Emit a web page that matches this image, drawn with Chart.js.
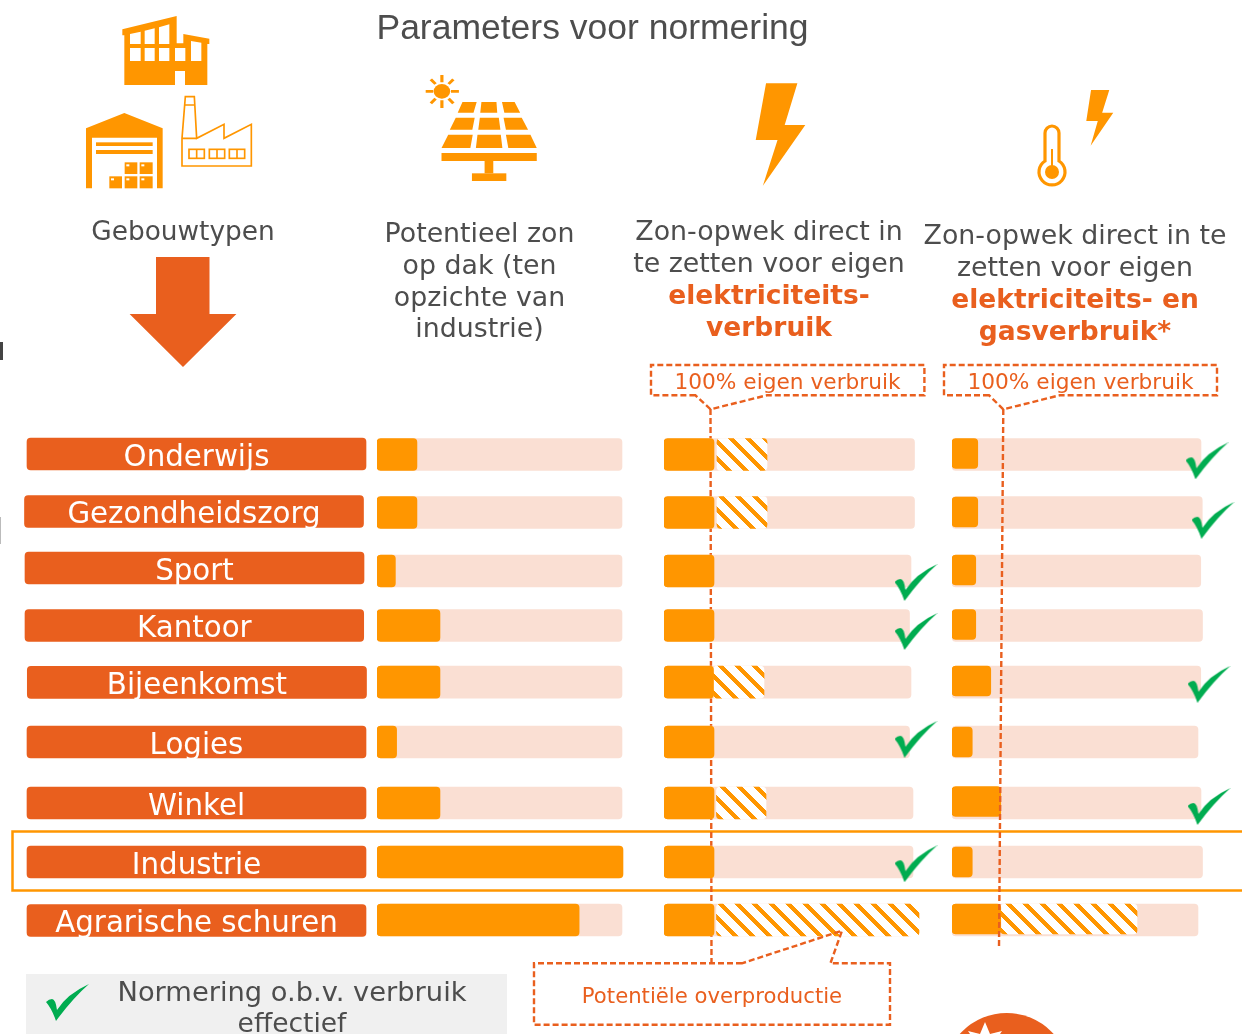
<!DOCTYPE html>
<html lang="nl">
<head>
<meta charset="utf-8">
<title>Parameters voor normering</title>
<script src="https://cdn.jsdelivr.net/npm/chart.js@4"></script>
<style>
  html, body { margin: 0; padding: 0; background: #fff; }
  #page { position: relative; width: 1242px; height: 1034px; overflow: hidden; }
  #page svg, #page canvas { position: absolute; top: 0; }
  #page svg { left: 0; }
  text { font-family: "DejaVu Sans", sans-serif; }
  .head { fill: #4d4d4d; font-size: 26.8px; text-anchor: middle; }
  .bold { fill: #e95f1e; font-size: 26.5px; font-weight: bold; text-anchor: middle; }
  .note { fill: #e95f1e; font-size: 21.7px; text-anchor: middle; }
  .dash { fill: none; stroke: #e95f1e; stroke-width: 2.4; stroke-dasharray: 6 3; }
</style>
</head>
<body>
<div id="page">
  <svg width="1242" height="1034">
    <rect x="12.5" y="831.5" width="1240" height="59" fill="none" stroke="#ff9600" stroke-width="2.5"/>
    <path class="dash" d="M710.5 409 L711.5 963"/>
    <rect x="26" y="974" width="481" height="60" fill="#f0f0f0"/>
    <rect x="0" y="342" width="3" height="18" fill="#444"/>
    <rect x="0" y="517" width="1" height="27" fill="#bbb"/>
  </svg>
  <canvas id="labels-chart" width="377" height="1034" style="left:0"></canvas>
  <canvas id="zon-chart" width="250" height="1034" style="left:377px"></canvas>
  <canvas id="elek-chart" width="280" height="1034" style="left:664px"></canvas>
  <canvas id="gas-chart" width="290" height="1034" style="left:952px"></canvas>
  <svg width="1242" height="1034">
    <text x="592.5" y="38.5" text-anchor="middle" style="font-family:'Liberation Sans';font-size:35.5px;fill:#4d4d4d">Parameters voor normering</text>

    <!-- gebouwen -->
    <g transform="translate(80 10) scale(.33333)" fill="#ff9600">
      <path d="M127 58 L290 18 V100 H310 V72 L388 86 V102 H382 V225 H315 V183 H285 V225 H133 V76 H127Z"/>
      <g fill="#fff">
        <path d="M150 72 L182 65 V102 H150Z M194 62 L224 55 V102 H194Z M237 52 L268 43 V102 H237Z M333 93 L364 98 V153 H333Z"/>
        <rect x="150" y="114" width="32" height="39"/><rect x="194" y="114" width="30" height="39"/>
        <rect x="237" y="114" width="31" height="39"/><rect x="285" y="114" width="31" height="39"/>
      </g>
      <path d="M18 355 L133 309 L248 355 V535 H231 V383 H36 V535 H18Z"/>
      <rect x="48" y="397" width="170" height="11"/><rect x="48" y="420" width="170" height="12"/>
      <rect x="134" y="457" width="38" height="35"/><rect x="179" y="457" width="39" height="35"/>
      <rect x="88" y="499" width="38" height="36"/><rect x="134" y="499" width="38" height="36"/><rect x="179" y="499" width="39" height="36"/>
      <g fill="#fff">
        <rect x="139" y="463" width="9" height="6"/><rect x="184" y="463" width="9" height="6"/>
        <rect x="93" y="505" width="9" height="6"/><rect x="139" y="505" width="9" height="6"/><rect x="184" y="505" width="9" height="6"/>
      </g>
      <g fill="none" stroke="#ff9600" stroke-width="5">
        <path d="M306 468 V385 L316 260 H343 L350 385 L432 343 V385 L514 343 V468Z M316 285 H343 M306 385 H350"/>
        <rect x="327" y="418" width="46" height="27"/><path d="M350 418 V445"/>
        <rect x="388" y="418" width="46" height="27"/><path d="M411 418 V445"/>
        <rect x="448" y="418" width="46" height="27"/><path d="M471 418 V445"/>
      </g>
    </g>

    <!-- zonnepaneel -->
    <g transform="scale(.39526 .33333)" fill="#ff9600">
      <ellipse cx="1118" cy="274" rx="21" ry="22"/>
      <path stroke="#ff9600" stroke-width="8" d="M1118 225 V247 M1118 301 V324 M1077 274 H1096 M1141 274 H1161 M1090 238 L1102 252 M1147 238 L1135 252 M1090 310 L1102 296 M1147 310 L1135 296"/>
      <path d="M1170 306 H1206 L1198 338 H1158Z M1218 306 H1256 L1258 338 H1215Z M1270 306 H1302 L1316 338 H1276Z"/>
      <path d="M1153 353 H1201 L1195 389 H1138Z M1214 353 H1262 L1266 389 H1210Z M1274 353 H1320 L1336 389 H1280Z"/>
      <path d="M1134 404 H1196 L1190 444 H1117Z M1208 404 H1267 L1271 444 H1204Z M1280 404 H1342 L1358 444 H1286Z"/>
      <rect x="1117" y="459" width="241" height="24"/><rect x="1226" y="483" width="22" height="37"/><rect x="1194" y="520" width="87" height="23"/>
    </g>

    <!-- bliksem en thermometer -->
    <g transform="translate(620 0) scale(.39683 .33333)" fill="#ff9600">
      <path d="M368 250 H447 L415 375 H467 L360 557 L397 420 H342Z"/>
      <path d="M1187 270 H1233 L1215 338 H1243 L1186 437 L1204 363 H1175Z"/>
    </g>
    <path d="M1045 161 V133 a7 7 0 0 1 14 0 V161 a13 13 0 1 1 -14 0Z" fill="none" stroke="#ff9600" stroke-width="3.2"/>
    <circle cx="1052" cy="172" r="7" fill="#ff9600"/>
    <path d="M1052 149 V170" stroke="#ff9600" stroke-width="2"/>

    <!-- pijl omlaag -->
    <path d="M156 257 H209.5 V314 H236.4 L183 367 L129.6 314 H156Z" fill="#e95f1e"/>

    <text class="head" x="183" y="240" style="font-size:26.4px">Gebouwtypen</text>
    <text class="head" x="479.5" y="241.5">Potentieel zon</text>
    <text class="head" x="479.5" y="273.5">op dak (ten</text>
    <text class="head" x="479.5" y="305.5">opzichte van</text>
    <text class="head" x="479.5" y="337">industrie)</text>

    <text class="head" x="769" y="239.5">Zon-opwek direct in</text>
    <text class="head" x="769" y="271.5">te zetten voor eigen</text>
    <text class="bold" x="769" y="303.5">elektriciteits-</text>
    <text class="bold" x="769" y="335.5">verbruik</text>

    <text class="head" x="1075" y="243.5">Zon-opwek direct in te</text>
    <text class="head" x="1075" y="275.5">zetten voor eigen</text>
    <text class="bold" x="1075" y="307.5">elektriciteits- en</text>
    <text class="bold" x="1075" y="339.5">gasverbruik*</text>

    <!-- callouts -->
    <path class="dash" d="M695.4 395.3 H651 V365 H924.4 V395.3 H766.8 L710.5 409.3 Z"/>
    <text class="note" x="787.5" y="388.5">100% eigen verbruik</text>
    <path class="dash" d="M989 395.3 H944 V365 H1217 V395.3 H1059.7 L1003.3 409.3 Z"/>
    <text class="note" x="1080.5" y="388.5">100% eigen verbruik</text>
    <path class="dash" d="M1003.3 409 L999 947"/>
    <path class="dash" d="M742 963.3 H534 V1024.7 H890 V963.3 H830.4 L842 930.7 Z"/>
    <text class="note" x="712" y="1003" style="font-size:21.2px">Potentiële overproductie</text>

    <!-- legenda -->
    <path transform="translate(46 984)" d="M0 18 Q3 15 6 15 Q9.5 15 11 26 Q21 10 43 0 Q26 15 10 37 Q6 25 0 18Z" fill="#00ac50"/>
    <text x="292" y="1001" text-anchor="middle" style="font-size:27.3px;fill:#4d4d4d">Normering o.b.v. verbruik</text>
    <text x="292" y="1032" text-anchor="middle" style="font-size:26.5px;fill:#4d4d4d">effectief</text>

    <circle cx="1006.7" cy="1076" r="63" fill="#e95f1e"/>
    <path d="M985 1022 L990 1034 L1002 1031 L996 1040 H974 L968 1031 L980 1034Z" fill="#fff"/>
  </svg>
</div>
<script>
const categories = ['Onderwijs', 'Gezondheidszorg', 'Sport', 'Kantoor', 'Bijeenkomst', 'Logies', 'Winkel', 'Industrie', 'Agrarische schuren'];

// rij-middens op de verticale as
const pillRows = [454, 511.5, 568, 625.5, 682.3, 742, 803, 862, 920.5];
const trackRows = [454.5, 512.5, 571, 625.5, 682.2, 742, 803, 862, 920];
const gasBarRows = [453.5, 512, 570, 624.5, 681, 742, 801.5, 862, 919];

const pillStart = [27, 24.5, 25, 25, 27.3, 27, 27, 27, 27];
const pillEnd = [366, 363.5, 364, 363.7, 366.5, 366, 366, 366, 366];

// potentieel zon op dak, % t.o.v. industrie
const zonValues = [16.3, 16.3, 7.5, 25.7, 25.7, 8, 25.7, 100.4, 82.5];

// direct inzetten voor elektriciteitsverbruik
const elekValues = [20, 20, 20, 20, 19.8, 20, 20, 20, 20];
const elekOverFrom = [21.2, 21.2, null, null, 19.8, null, 21, null, 21];
const elekOverTo = [41.2, 41.2, null, null, 40, null, 40.8, null, 102];
const elekTrack = [100.2, 100.2, 98.8, 98.2, 98.8, 98.2, 99.6, 99.6, 100];
const elekCheckX = [100.8, 100.8, 100.8, 100.8];
const elekCheckY = [582.5, 631.5, 739.3, 863.7];

// direct inzetten voor elektriciteits- en gasverbruik
const gasValues = [10.3, 10.3, 9.5, 9.5, 15.5, 8.1, 19.5, 8.1, 19.5];
const gasOverFrom = [null, null, null, null, null, null, null, null, 19.5];
const gasOverTo = [null, null, null, null, null, null, null, null, 74];
const gasTrack = [99.6, 100.1, 99.5, 100.2, 99.5, 98.4, 99.6, 100.2, 98.4];
const gasCheckX = [102, 104.4, 102.8, 102.8];
const gasCheckY = [460.8, 520.3, 684.3, 806.5];

const ORANJE = '#e95f1e';
const GEEL = '#ff9600';
const LICHT = '#fadfd3';
const GROEN = '#00ac50';

function makeHatch() {
    const tile = document.createElement('canvas');
    tile.width = 17;
    tile.height = 17;
    const ctx = tile.getContext('2d');
    for (let y = 0; y < 17; y++) {
        for (let x = 0; x < 17; x++) {
            ctx.fillStyle = (x - y + 34) % 17 < 6 ? GEEL : '#fff';
            ctx.fillRect(x, y, 1, 1);
        }
    }
    return ctx.createPattern(tile, 'repeat');
}

function makeCheck() {
    const mark = document.createElement('canvas');
    mark.width = 43;
    mark.height = 37;
    const ctx = mark.getContext('2d');
    ctx.fillStyle = GROEN;
    ctx.fill(new Path2D('M0 18 Q3 15 6 15 Q9.5 15 11 26 Q21 10 43 0 Q26 15 10 37 Q6 25 0 18Z'));
    return mark;
}

const hatch = makeHatch();
const check = makeCheck();

const barSet = (data, color, order, thickness = 32) => ({
    data,
    backgroundColor: color,
    order,
    grouped: false,
    barThickness: thickness,
    borderRadius: 4,
    borderSkipped: false,
});

const spans = (from, to, rows) => rows
    .map((y, i) => ({ x: [from[i], to[i]], y }))
    .filter((_, i) => from[i] !== null);

const fromZero = (values, rows) => rows.map((y, i) => ({ x: [0, values[i]], y }));

const checkSet = (xs, ys) => ({
    type: 'scatter',
    data: xs.map((x, i) => ({ x, y: ys[i] })),
    pointStyle: check,
    order: 0,
});

const pillText = {
    id: 'pillText',
    afterDatasetsDraw(chart) {
        const { ctx } = chart;
        ctx.save();
        ctx.font = '29.3px "DejaVu Sans"';
        ctx.fillStyle = '#fff';
        ctx.textAlign = 'center';
        ctx.textBaseline = 'alphabetic';
        chart.getDatasetMeta(0).data.forEach((bar, i) => {
            ctx.fillText(categories[i], (bar.base + bar.x) / 2, bar.y + 11.7);
        });
        ctx.restore();
    },
};

function makePanel(id, xMax, datasets, plugins = []) {
    return new Chart(document.getElementById(id), {
        type: 'bar',
        data: { datasets },
        plugins,
        options: {
            indexAxis: 'y',
            responsive: false,
            animation: false,
            layout: { padding: 0, autoPadding: false },
            plugins: { legend: { display: false }, tooltip: { enabled: false } },
            scales: {
                x: { type: 'linear', display: false, min: 0, max: xMax, offset: false },
                y: { type: 'linear', display: false, min: 0, max: 1034, reverse: true, offset: false },
            },
        },
    });
}

makePanel('labels-chart', 377, [
    barSet(spans(pillStart, pillEnd, pillRows), ORANJE, 1),
], [pillText]);

makePanel('zon-chart', 102.04, [
    barSet(fromZero(zonValues, trackRows), GEEL, 1),
    barSet(fromZero(zonValues.map(() => 100), trackRows), LICHT, 2),
]);

makePanel('elek-chart', 112, [
    checkSet(elekCheckX, elekCheckY),
    barSet(fromZero(elekValues, trackRows), GEEL, 1),
    barSet(spans(elekOverFrom, elekOverTo, trackRows), hatch, 2),
    barSet(fromZero(elekTrack, trackRows), LICHT, 3),
]);

makePanel('gas-chart', 116, [
    checkSet(gasCheckX, gasCheckY),
    barSet(fromZero(gasValues, gasBarRows), GEEL, 1, 30),
    barSet(spans(gasOverFrom, gasOverTo, gasBarRows), hatch, 2, 30),
    barSet(fromZero(gasTrack, trackRows), LICHT, 3),
]);
</script>
</body>
</html>
